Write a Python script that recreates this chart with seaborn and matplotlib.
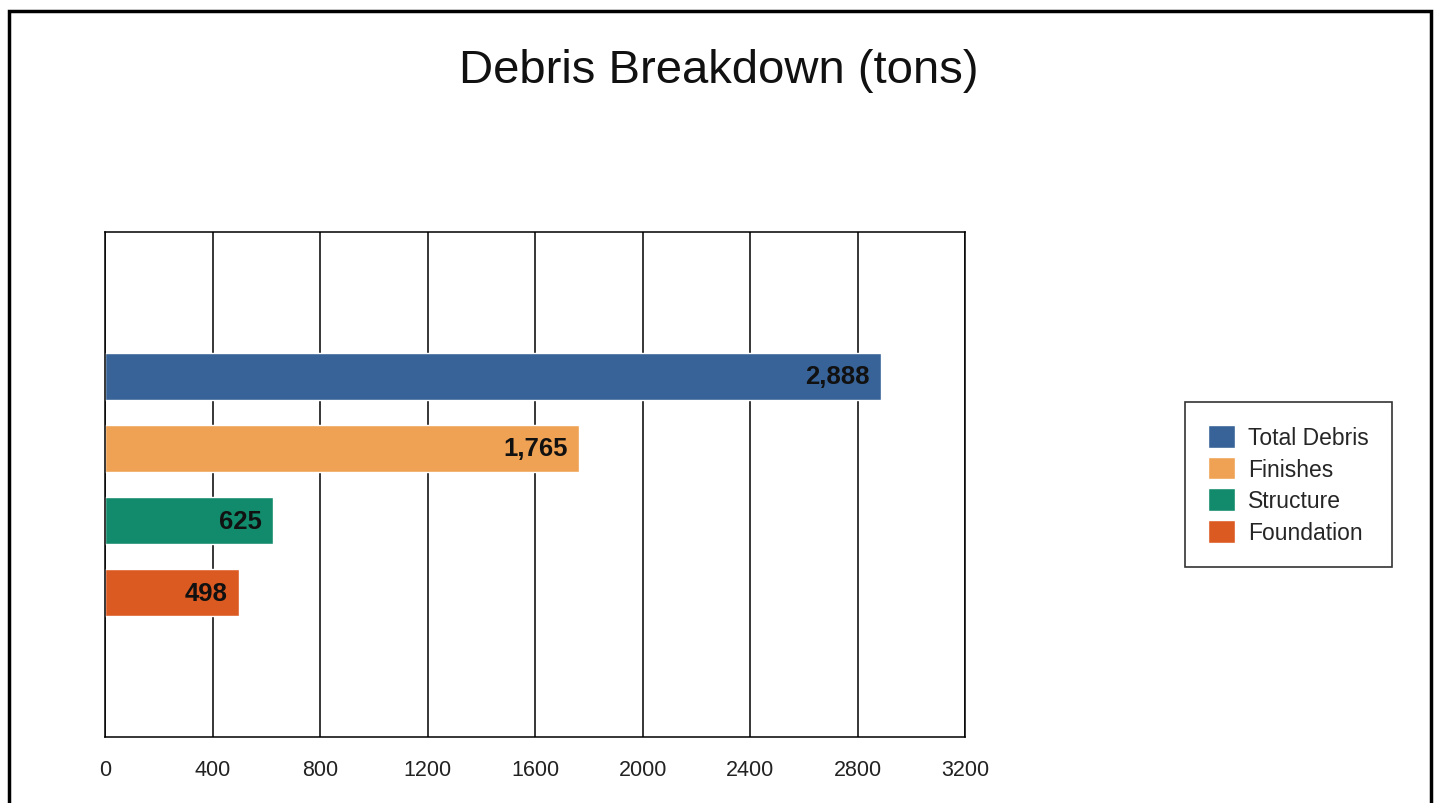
import pandas as pd
import numpy as np
import matplotlib
matplotlib.use("Agg")
import matplotlib.pyplot as plt
import seaborn as sns
from matplotlib.patches import Rectangle

# chart data
categories = ["Total Debris", "Finishes", "Structure", "Foundation"]
tons = [2888, 1765, 625, 498]
colors = ["#386399", "#F0A254", "#128A6C", "#DB5A22"]
x_ticks = [0, 400, 800, 1200, 1600, 2000, 2400, 2800, 3200]

df = pd.DataFrame({"category": categories, "tons": tons})

sns.set_theme(style="white")
plt.rcParams["font.family"] = ["Liberation Sans", "DejaVu Sans"]

fig = plt.figure(figsize=(14.37, 8.04), dpi=100)
ax = fig.add_axes([0.0731, 0.0821, 0.5985, 0.628])

sns.barplot(data=df, y="category", x="tons", hue="category",
            palette=colors, width=0.65, dodge=False, saturation=1,
            legend=True, ax=ax)

ax.set_xlim(0, 3200)
ax.set_ylim(5, -2)
ax.set_xticks(x_ticks)
ax.set_xticklabels([str(t) for t in x_ticks], fontsize=15.5, color="#222222")
ax.set_yticks([])
ax.set_xlabel("")
ax.set_ylabel("")
ax.tick_params(axis="x", length=0, pad=16)
ax.grid(axis="x", color="black", linewidth=1.1)
ax.set_axisbelow(True)
for sp in ax.spines.values():
    sp.set_color("black")
    sp.set_linewidth(1.1)

# value labels at the end of each bar
for i, v in enumerate(tons):
    ax.annotate(f"{v:,}", xy=(v, i), xytext=(-8, 0), textcoords="offset points",
                ha="right", va="center", fontsize=18.5, fontweight="bold", color="#111111")

handles, labels = ax.get_legend_handles_labels()
ax.get_legend().remove()
leg = fig.legend(handles, labels, loc="upper left", bbox_to_anchor=(0.8246, 0.4988),
                 fontsize=16.5, frameon=True, fancybox=False, edgecolor="black",
                 handlelength=1.2, handleheight=1.15, labelspacing=0.33,
                 borderpad=1.0, handletextpad=0.55, borderaxespad=0)
leg.get_frame().set_linewidth(1.2)

fig.text(0.5, 0.912, "Debris Breakdown (tons)", ha="center", va="center",
         fontsize=34, color="#111111")

# outer frame (bottom edge runs off the picture)
fig.patches.append(Rectangle((0.0063, -0.05), 0.9895, 1.035, transform=fig.transFigure,
                             fill=False, edgecolor="black", linewidth=2.5))

fig.savefig("out.png", dpi=100)
